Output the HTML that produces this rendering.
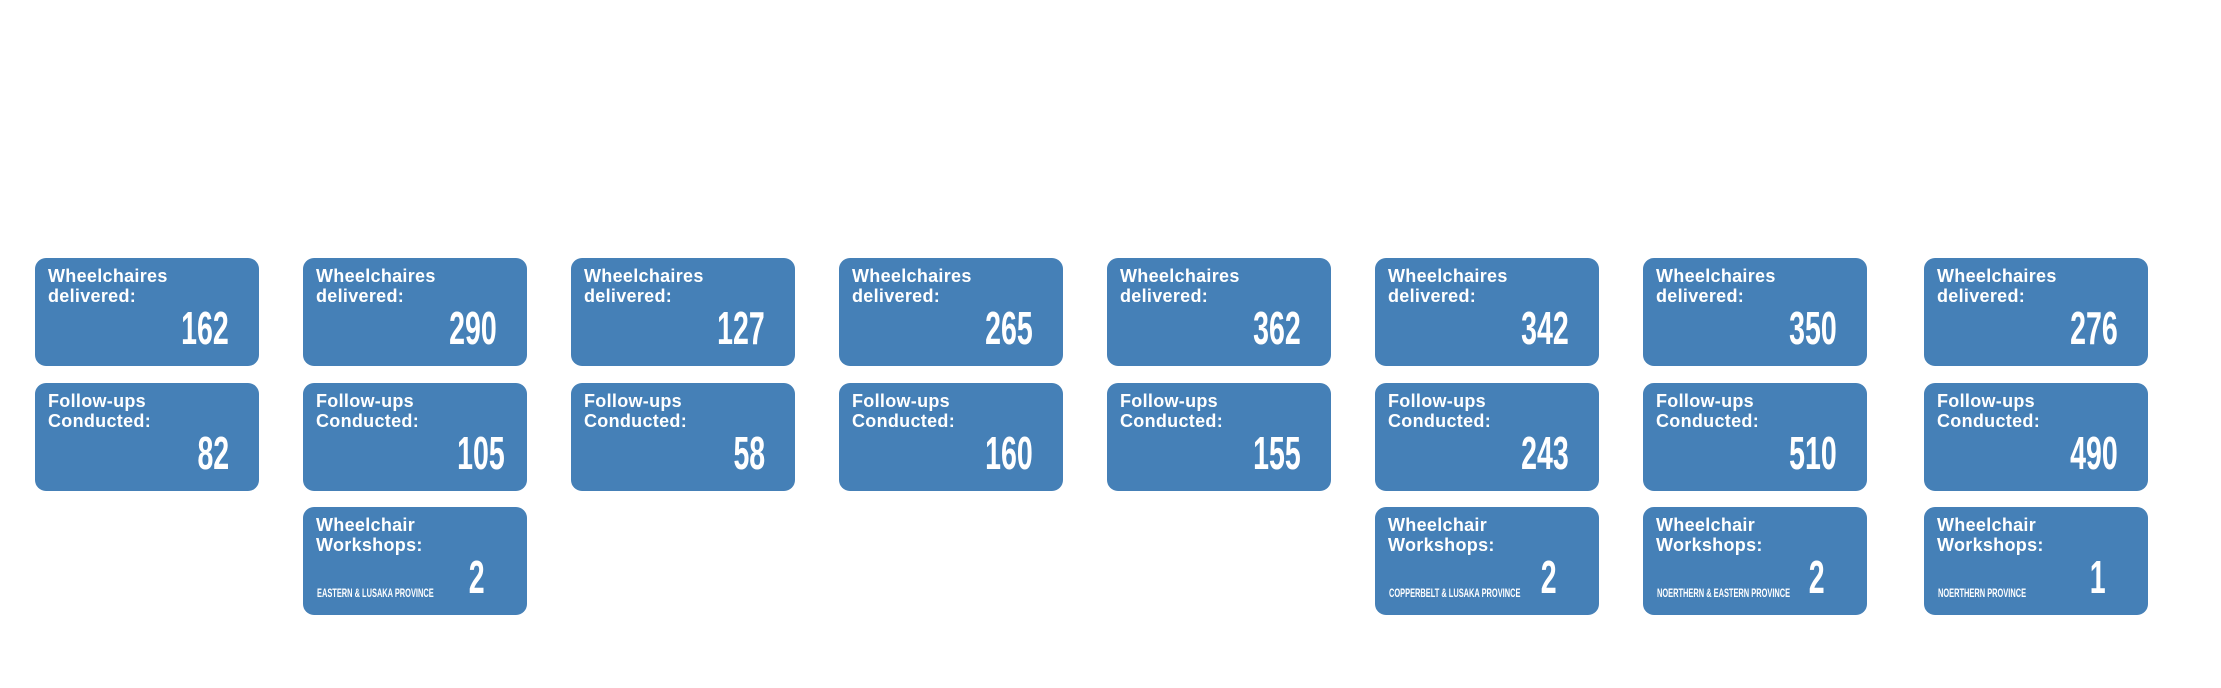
<!DOCTYPE html>
<html><head><meta charset="utf-8"><style>
body{margin:0;width:2221px;height:688px;background:#fff;position:relative;overflow:hidden;font-family:"Liberation Sans",sans-serif}
.b{position:absolute;width:224px;height:108px;background:#4580b7;border-radius:11px;color:#fff}
.t{position:absolute;left:13px;top:8px;font-size:18px;line-height:20px;font-weight:bold;letter-spacing:0.3px}
.n{position:absolute;right:30px;top:47px;font-size:46px;line-height:46px;font-weight:bold;transform:scaleX(0.62);transform-origin:right top}
.w .n{right:42px}
.p{position:absolute;left:14px;top:80px;font-size:12px;line-height:12px;font-weight:bold;transform:scaleX(0.62);transform-origin:left top;white-space:nowrap}
</style></head><body>
<div class="b" style="left:35px;top:258px"><div class="t">Wheelchaires<br>delivered:</div><div class="n">162</div></div>
<div class="b" style="left:35px;top:383px"><div class="t">Follow-ups<br>Conducted:</div><div class="n">82</div></div>

<div class="b" style="left:303px;top:258px"><div class="t">Wheelchaires<br>delivered:</div><div class="n">290</div></div>
<div class="b" style="left:303px;top:383px"><div class="t">Follow-ups<br>Conducted:</div><div class="n" style="right:22px">105</div></div>
<div class="b w" style="left:303px;top:507px"><div class="t">Wheelchair<br>Workshops:</div><div class="p">EASTERN &amp; LUSAKA PROVINCE</div><div class="n">2</div></div>

<div class="b" style="left:571px;top:258px"><div class="t">Wheelchaires<br>delivered:</div><div class="n">127</div></div>
<div class="b" style="left:571px;top:383px"><div class="t">Follow-ups<br>Conducted:</div><div class="n">58</div></div>

<div class="b" style="left:839px;top:258px"><div class="t">Wheelchaires<br>delivered:</div><div class="n">265</div></div>
<div class="b" style="left:839px;top:383px"><div class="t">Follow-ups<br>Conducted:</div><div class="n">160</div></div>

<div class="b" style="left:1107px;top:258px"><div class="t">Wheelchaires<br>delivered:</div><div class="n">362</div></div>
<div class="b" style="left:1107px;top:383px"><div class="t">Follow-ups<br>Conducted:</div><div class="n">155</div></div>

<div class="b" style="left:1375px;top:258px"><div class="t">Wheelchaires<br>delivered:</div><div class="n">342</div></div>
<div class="b" style="left:1375px;top:383px"><div class="t">Follow-ups<br>Conducted:</div><div class="n">243</div></div>
<div class="b w" style="left:1375px;top:507px"><div class="t">Wheelchair<br>Workshops:</div><div class="p">COPPERBELT &amp; LUSAKA PROVINCE</div><div class="n">2</div></div>

<div class="b" style="left:1643px;top:258px"><div class="t">Wheelchaires<br>delivered:</div><div class="n">350</div></div>
<div class="b" style="left:1643px;top:383px"><div class="t">Follow-ups<br>Conducted:</div><div class="n">510</div></div>
<div class="b w" style="left:1643px;top:507px"><div class="t">Wheelchair<br>Workshops:</div><div class="p">NOERTHERN &amp; EASTERN PROVINCE</div><div class="n">2</div></div>

<div class="b" style="left:1924px;top:258px"><div class="t">Wheelchaires<br>delivered:</div><div class="n">276</div></div>
<div class="b" style="left:1924px;top:383px"><div class="t">Follow-ups<br>Conducted:</div><div class="n">490</div></div>
<div class="b w" style="left:1924px;top:507px"><div class="t">Wheelchair<br>Workshops:</div><div class="p">NOERTHERN PROVINCE</div><div class="n">1</div></div>
</body></html>
